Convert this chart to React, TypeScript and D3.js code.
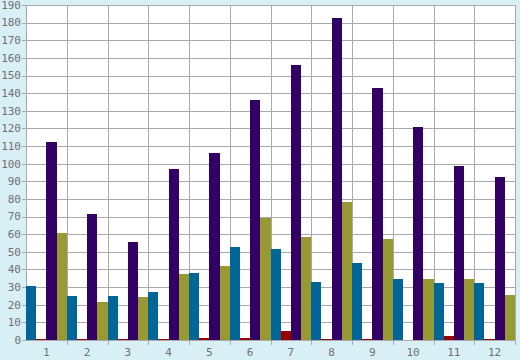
import React from "react";
import * as d3 from "d3";

const categories = ["1", "2", "3", "4", "5", "6", "7", "8", "9", "10", "11", "12"];
const seriesNames = ["A", "B", "C", "D"];
const seriesColors = ["#006699", "#990000", "#330066", "#999933"];
const blueValues = [30.6, 25, 25, 27.2, 38, 52.7, 51.6, 32.9, 43.7, 34.6, 32.3, 32.3];
const redValues = [0.7, 0.3, 0.7, 0.7, 1.1, 1.1, 5.1, 0.6, 0.6, 0.2, 2.3, 0.6];
const purpleValues = [112.3, 71.5, 55.6, 97, 106, 136.3, 156, 182.6, 142.9, 120.8, 98.7, 92.5];
const oliveValues = [60.7, 21.5, 24.4, 37.4, 42, 69.2, 58.4, 78.3, 57.3, 34.6, 34.6, 25.5];
const yTicks = [0, 10, 20, 30, 40, 50, 60, 70, 80, 90, 100, 110, 120, 130, 140, 150, 160, 170, 180, 190];

const W = 520;
const H = 360;
const M = { left: 26, right: 5, top: 5, bottom: 20 };

export default function App() {
  const series = [blueValues, redValues, purpleValues, oliveValues];
  const x = d3.scaleBand().domain(categories).range([M.left, W - M.right]).padding(0);
  const x1 = d3.scaleBand().domain(seriesNames).range([0, x.bandwidth()]).padding(0);
  const y = d3.scaleLinear().domain([0, 190]).range([H - M.bottom, M.top]);
  const font = "'DejaVu Sans Mono', monospace";
  const grid = "#aaaaaa";
  const text = "#707070";
  const bottom = H - M.bottom;
  return (
    <div style={{ position: "fixed", left: 0, top: 0 }}>
      <svg width={W} height={H} style={{ display: "block" }} shapeRendering="crispEdges">
        <rect x={0} y={0} width={W} height={H} fill="#d9eff6" />
        <rect x={M.left} y={M.top} width={W - M.left - M.right} height={bottom - M.top} fill="#ffffff" />
        {yTicks.map((t) => (
          <g key={"y" + t}>
            <line x1={M.left - 4} x2={W - M.right} y1={Math.round(y(t)) + 0.5} y2={Math.round(y(t)) + 0.5} stroke={grid} strokeWidth={1} />
            <text x={M.left - 5} y={y(t)} dy="0.35em" textAnchor="end" fontFamily={font} fontSize={11} fill={text}>{t}</text>
          </g>
        ))}
        {categories.map((c, i) => (
          <g key={"x" + c}>
            {i > 0 && (
              <line x1={Math.round(x(c)!) + 0.5} x2={Math.round(x(c)!) + 0.5} y1={M.top} y2={bottom + 5} stroke={grid} strokeWidth={1} />
            )}
            <text x={x(c)! + x.bandwidth() / 2} y={bottom + 16} textAnchor="middle" fontFamily={font} fontSize={11} fill={text}>{c}</text>
          </g>
        ))}
        <line x1={W - M.right + 0.5} x2={W - M.right + 0.5} y1={M.top} y2={bottom + 5} stroke={grid} />
        <line x1={M.left + 0.5} x2={M.left + 0.5} y1={M.top} y2={bottom} stroke={grid} />
        {categories.map((c, i) => (
          <g key={"b" + c}>
            {series.map((vals, s) => (
              <rect
                key={s}
                x={x(c)! + x1(seriesNames[s])!}
                y={y(vals[i])}
                width={x1.bandwidth()}
                height={bottom - y(vals[i])}
                fill={seriesColors[s]}
              />
            ))}
          </g>
        ))}
      </svg>
    </div>
  );
}
